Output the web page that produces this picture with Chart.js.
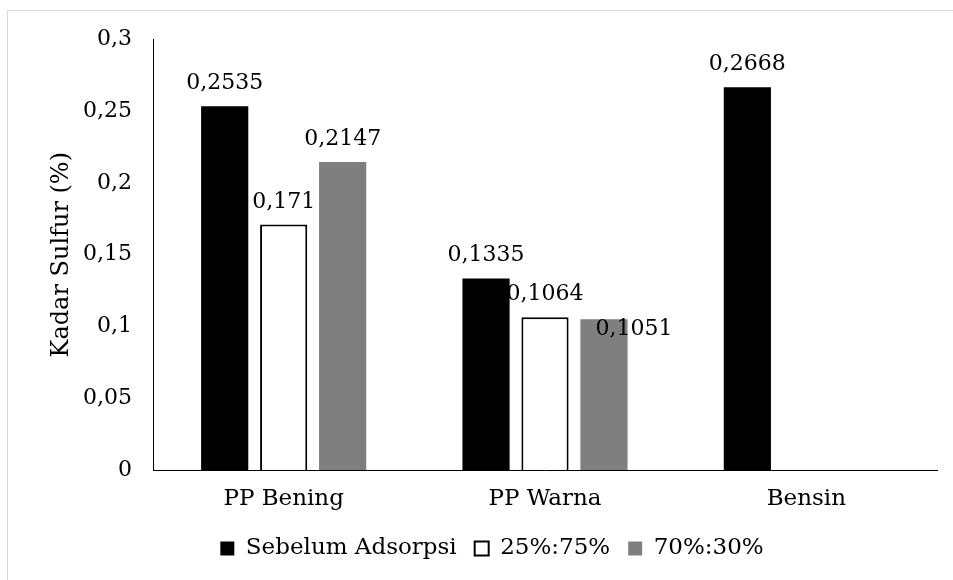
<!DOCTYPE html>
<html>
<head>
<meta charset="utf-8">
<script src="https://cdn.jsdelivr.net/npm/chart.js@4.4.1/dist/chart.umd.min.js"></script>
<style>
  html, body { margin: 0; padding: 0; background: #fff; overflow: hidden; }
  #frame { position: absolute; left: 7px; top: 10px; width: 1000px; height: 1000px; border: 1px solid #d9d9d9; }
  #sulfur-chart { position: absolute; left: 0; top: 0; }
</style>
</head>
<body>
<div id="frame"></div>
<canvas id="sulfur-chart" width="953" height="580"></canvas>
<script>
// data
const categories = ['PP Bening', 'PP Warna', 'Bensin'];
const sebelumAdsorpsi = [0.2535, 0.1335, 0.2668];
const rasio25_75 = [0.171, 0.1064, null];
const rasio70_30 = [0.2147, 0.1051, null];
const yTickLabels = ['0', '0,05', '0,1', '0,15', '0,2', '0,25', '0,3'];

const serif = "'DejaVu Serif', serif";

// value labels, placed above each bar; a label that would hit an earlier one goes beside its bar
const valueLabels = {
  id: 'valueLabels',
  beforeDatasetsDraw(chart) {
    const ctx = chart.ctx;
    ctx.save();
    ctx.font = '22px ' + serif;
    const placed = [];
    chart.$valueLabels = [];
    chart.data.datasets.forEach((ds, i) => {
      const meta = chart.getDatasetMeta(i);
      meta.data.forEach((bar, j) => {
        const v = ds.data[j];
        if (v == null) return;
        const text = String(v).replace('.', ',');
        const w = ctx.measureText(text).width;
        let x = bar.x, y = bar.y - 17;
        let box = { l: x - w / 2, r: x + w / 2, t: y - 16, b: y };
        const hit = placed.some(p => box.l < p.r && box.r > p.l && box.t < p.b && box.b > p.t);
        if (hit) {
          x = bar.x + 30;
          y = bar.y + 16;
          box = { l: x - w / 2, r: x + w / 2, t: y - 16, b: y };
        }
        placed.push(box);
        chart.$valueLabels.push({ index: i, x, y, text });
      });
    });
    ctx.restore();
  },
  afterDatasetDraw(chart, args) {
    const ctx = chart.ctx;
    ctx.save();
    ctx.font = '22px ' + serif;
    ctx.fillStyle = '#000';
    ctx.textAlign = 'center';
    ctx.textBaseline = 'alphabetic';
    (chart.$valueLabels || []).filter(l => l.index === args.index).forEach(l => {
      ctx.fillText(l.text, l.x, l.y);
    });
    ctx.restore();
  }
};

const chart = new Chart(document.getElementById('sulfur-chart'), {
  type: 'bar',
  data: {
    labels: categories,
    datasets: [
      {
        label: 'Sebelum Adsorpsi',
        data: sebelumAdsorpsi,
        backgroundColor: '#000000',
        borderWidth: 0,
      },
      {
        label: '25%:75%',
        data: rasio25_75,
        backgroundColor: '#ffffff',
        borderColor: '#000000',
        borderWidth: 2,
      },
      {
        label: '70%:30%',
        data: rasio70_30,
        backgroundColor: '#7f7f7f',
        borderWidth: 0,
      },
    ],
  },
  options: {
    responsive: false,
    animation: false,
    events: [],
    categoryPercentage: 0.677,
    barPercentage: 0.8,
    layout: {
      padding: { top: 39.5, left: 47, right: 16, bottom: 10 },
    },
    plugins: {
      tooltip: { enabled: false },
      legend: {
        position: 'bottom',
        labels: {
          font: { family: serif, size: 23 },
          color: '#000',
          boxWidth: 14,
          boxHeight: 14,
          padding: 18,
        },
      },
    },
    scales: {
      x: {
        grid: { display: false, drawTicks: false },
        border: { color: '#000', width: 1 },
        ticks: { font: { family: serif, size: 23 }, color: '#000', padding: 15 },
        afterFit(scale) { scale.height = 49; },
      },
      y: {
        min: 0,
        max: 0.3,
        grid: { display: false, drawTicks: false },
        border: { color: '#000', width: 1 },
        ticks: {
          stepSize: 0.05,
          font: { family: serif, size: 22 },
          color: '#000',
          padding: 21,
          callback: (value, index) => yTickLabels[index],
        },
        title: {
          display: true,
          text: 'Kadar Sulfur (%)',
          font: { family: serif, size: 24 },
          color: '#000',
          padding: 0,
        },
        afterFit(scale) { scale.width = 106; },
      },
    },
  },
  plugins: [valueLabels],
});
</script>
</body>
</html>
